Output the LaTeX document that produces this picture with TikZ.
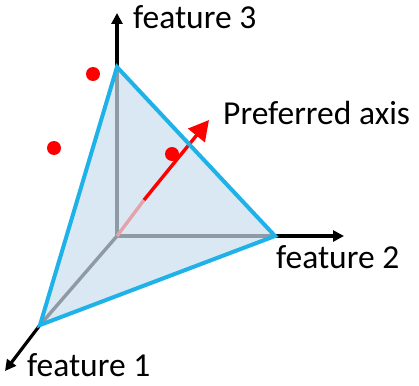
\documentclass[tikz,border=0pt]{standalone}
\usepackage{fontspec}
\setmainfont{Carlito}
\usetikzlibrary{arrows.meta}
\definecolor{triblue}{HTML}{1FB2E8}
\definecolor{trifill}{HTML}{DAE8F3}
\definecolor{axgray}{HTML}{8E9BA4}
\definecolor{dotred}{HTML}{FF0000}
\definecolor{pinkred}{HTML}{E3A3AD}
\tikzset{
  axis/.style={line width=3.2pt,-{Triangle[length=11pt,width=11pt]}},
  inner/.style={line width=3.4pt,axgray},
  edge/.style={line width=4pt,triblue,line join=miter},
  dot/.style={circle,fill=dotred,inner sep=0pt,minimum size=14pt},
  lbl/.style={font=\fontsize{33.5}{40}\selectfont,inner sep=0pt,text depth=0pt}
}
\begin{document}
\begin{tikzpicture}[x=1pt,y=-1pt]
\useasboundingbox (0,0) rectangle (419,385);
\coordinate (O) at (117,236);
\coordinate (A3) at (117,67);
\coordinate (A2) at (275,236);
\coordinate (A1) at (40,325);
\coordinate (T3) at (117,13);
\coordinate (T2) at (344,236);
\coordinate (T1) at (5,371);
\coordinate (M) at (144,200);
\coordinate (R) at (209,120);
% axes outside
\draw[axis] (A3) -- (T3);
\draw[axis] (A2) -- (T2);
\draw[axis] (A1) -- (T1);
% triangle fill
\fill[trifill] (A1) -- (A3) -- (A2) -- cycle;
% inner gray axes
\draw[inner] (O) -- (A3);
\draw[inner] (O) -- (A2);
\draw[inner] (O) -- (A1);
% preferred axis
\draw[line width=3.4pt,pinkred] (O) -- (M);
\draw[line width=3.4pt,dotred,-{Triangle[length=20pt,width=21pt]}] (M) -- (R);
% triangle border
\draw[edge] (A1) -- (A3) -- (A2) -- cycle;
% dots
\node[dot] (d1) at (93,74) {};
\node[dot] (d2) at (54,148) {};
\node[dot] (d3) at (172,154) {};
% labels
\node[lbl,anchor=base west] (l3) at (133,29) {feature 3};
\node[lbl,anchor=base west] (l2) at (276,268) {feature 2};
\node[lbl,anchor=base west] (l1) at (27,376) {feature 1};
\node[lbl,anchor=base west] (lp) at (223,124) {Preferred axis};
\end{tikzpicture}
\end{document}
